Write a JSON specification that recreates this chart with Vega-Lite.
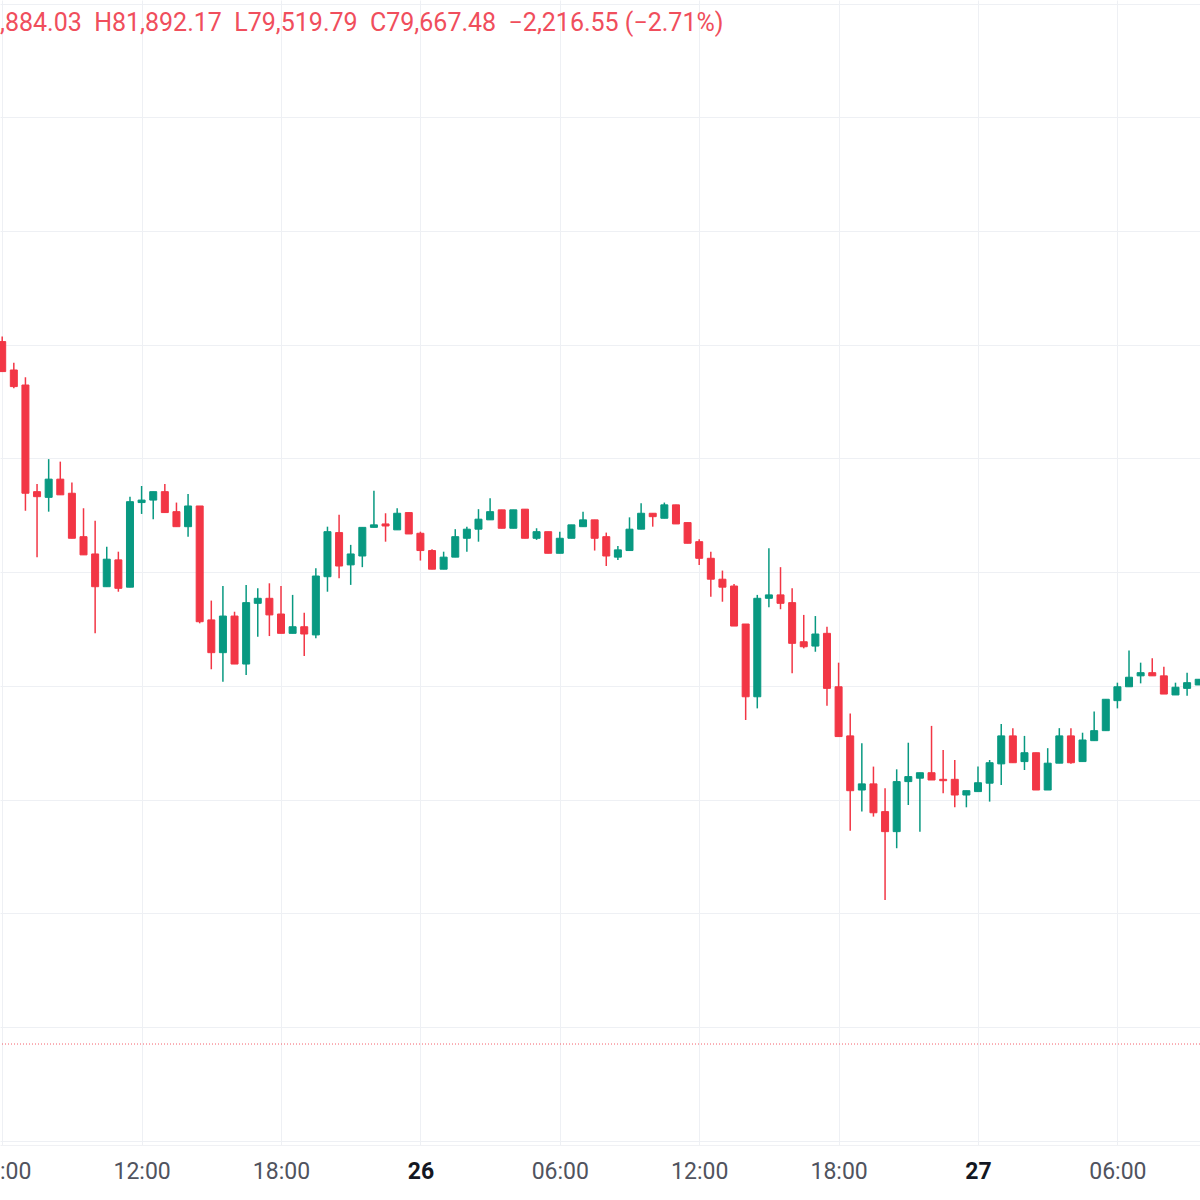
{
  "$schema": "https://vega.github.io/schema/vega-lite/v6.json",
  "width": 1200,
  "height": 1145,
  "autosize": {"type": "none"},
  "padding": {"left": 0, "right": 0, "top": 0, "bottom": 55},
  "background": "#ffffff",
  "config": {"view": {"stroke": null}},
  "title": {
    "text": ",884.03\u00a0\u00a0H81,892.17\u00a0\u00a0L79,519.79\u00a0\u00a0C79,667.48\u00a0\u00a0\u22122,216.55\u00a0(\u22122.71%)",
    "anchor": "start",
    "frame": "group",
    "orient": "top",
    "offset": -56,
    "baseline": "alphabetic",
    "font": "Roboto",
    "fontSize": 25,
    "fontWeight": "normal",
    "color": "#F04E5C"
  },
  "data": {
    "values": [
      {"t": "2025-02-25T06:00:00Z", "o": 83014, "h": 83036, "l": 82882, "c": 82882},
      {"t": "2025-02-25T06:30:00Z", "o": 82889, "h": 82921, "l": 82809, "c": 82816},
      {"t": "2025-02-25T07:00:00Z", "o": 82823, "h": 82857, "l": 82270, "c": 82347},
      {"t": "2025-02-25T07:30:00Z", "o": 82354, "h": 82388, "l": 82066, "c": 82332},
      {"t": "2025-02-25T08:00:00Z", "o": 82329, "h": 82497, "l": 82266, "c": 82409},
      {"t": "2025-02-25T08:30:00Z", "o": 82409, "h": 82486, "l": 82340, "c": 82340},
      {"t": "2025-02-25T09:00:00Z", "o": 82347, "h": 82394, "l": 82149, "c": 82149},
      {"t": "2025-02-25T09:30:00Z", "o": 82156, "h": 82281, "l": 82076, "c": 82076},
      {"t": "2025-02-25T10:00:00Z", "o": 82080, "h": 82226, "l": 81731, "c": 81936},
      {"t": "2025-02-25T10:30:00Z", "o": 81936, "h": 82112, "l": 81936, "c": 82057},
      {"t": "2025-02-25T11:00:00Z", "o": 82054, "h": 82090, "l": 81914, "c": 81929},
      {"t": "2025-02-25T11:30:00Z", "o": 81934, "h": 82332, "l": 81934, "c": 82310},
      {"t": "2025-02-25T12:00:00Z", "o": 82306, "h": 82379, "l": 82256, "c": 82317},
      {"t": "2025-02-25T12:30:00Z", "o": 82317, "h": 82354, "l": 82233, "c": 82354},
      {"t": "2025-02-25T13:00:00Z", "o": 82354, "h": 82388, "l": 82262, "c": 82262},
      {"t": "2025-02-25T13:30:00Z", "o": 82266, "h": 82306, "l": 82200, "c": 82200},
      {"t": "2025-02-25T14:00:00Z", "o": 82200, "h": 82344, "l": 82156, "c": 82291},
      {"t": "2025-02-25T14:30:00Z", "o": 82291, "h": 82291, "l": 81775, "c": 81782},
      {"t": "2025-02-25T15:00:00Z", "o": 81790, "h": 81875, "l": 81573, "c": 81646},
      {"t": "2025-02-25T15:30:00Z", "o": 81646, "h": 81939, "l": 81518, "c": 81807},
      {"t": "2025-02-25T16:00:00Z", "o": 81807, "h": 81826, "l": 81596, "c": 81596},
      {"t": "2025-02-25T16:30:00Z", "o": 81596, "h": 81944, "l": 81548, "c": 81866},
      {"t": "2025-02-25T17:00:00Z", "o": 81863, "h": 81929, "l": 81716, "c": 81885},
      {"t": "2025-02-25T17:30:00Z", "o": 81885, "h": 81951, "l": 81719, "c": 81812},
      {"t": "2025-02-25T18:00:00Z", "o": 81816, "h": 81939, "l": 81731, "c": 81731},
      {"t": "2025-02-25T18:30:00Z", "o": 81731, "h": 81900, "l": 81731, "c": 81760},
      {"t": "2025-02-25T19:00:00Z", "o": 81760, "h": 81822, "l": 81631, "c": 81728},
      {"t": "2025-02-25T19:30:00Z", "o": 81724, "h": 82017, "l": 81709, "c": 81983},
      {"t": "2025-02-25T20:00:00Z", "o": 81980, "h": 82200, "l": 81914, "c": 82178},
      {"t": "2025-02-25T20:30:00Z", "o": 82174, "h": 82252, "l": 81973, "c": 82027},
      {"t": "2025-02-25T21:00:00Z", "o": 82032, "h": 82120, "l": 81944, "c": 82080},
      {"t": "2025-02-25T21:30:00Z", "o": 82071, "h": 82197, "l": 82022, "c": 82197},
      {"t": "2025-02-25T22:00:00Z", "o": 82197, "h": 82358, "l": 82197, "c": 82208},
      {"t": "2025-02-25T22:30:00Z", "o": 82212, "h": 82259, "l": 82134, "c": 82203},
      {"t": "2025-02-25T23:00:00Z", "o": 82186, "h": 82281, "l": 82186, "c": 82259},
      {"t": "2025-02-25T23:30:00Z", "o": 82262, "h": 82262, "l": 82168, "c": 82168},
      {"t": "2025-02-26T00:00:00Z", "o": 82171, "h": 82178, "l": 82051, "c": 82095},
      {"t": "2025-02-26T00:30:00Z", "o": 82095, "h": 82101, "l": 82013, "c": 82013},
      {"t": "2025-02-26T01:00:00Z", "o": 82013, "h": 82090, "l": 82013, "c": 82066},
      {"t": "2025-02-26T01:30:00Z", "o": 82066, "h": 82189, "l": 82066, "c": 82156},
      {"t": "2025-02-26T02:00:00Z", "o": 82149, "h": 82200, "l": 82090, "c": 82189},
      {"t": "2025-02-26T02:30:00Z", "o": 82189, "h": 82277, "l": 82134, "c": 82233},
      {"t": "2025-02-26T03:00:00Z", "o": 82230, "h": 82325, "l": 82230, "c": 82266},
      {"t": "2025-02-26T03:30:00Z", "o": 82274, "h": 82274, "l": 82193, "c": 82193},
      {"t": "2025-02-26T04:00:00Z", "o": 82193, "h": 82274, "l": 82193, "c": 82274},
      {"t": "2025-02-26T04:30:00Z", "o": 82277, "h": 82277, "l": 82149, "c": 82149},
      {"t": "2025-02-26T05:00:00Z", "o": 82149, "h": 82193, "l": 82142, "c": 82178},
      {"t": "2025-02-26T05:30:00Z", "o": 82178, "h": 82178, "l": 82083, "c": 82083},
      {"t": "2025-02-26T06:00:00Z", "o": 82083, "h": 82178, "l": 82083, "c": 82149},
      {"t": "2025-02-26T06:30:00Z", "o": 82149, "h": 82208, "l": 82149, "c": 82208},
      {"t": "2025-02-26T07:00:00Z", "o": 82200, "h": 82266, "l": 82200, "c": 82230},
      {"t": "2025-02-26T07:30:00Z", "o": 82230, "h": 82230, "l": 82095, "c": 82149},
      {"t": "2025-02-26T08:00:00Z", "o": 82156, "h": 82174, "l": 82027, "c": 82071},
      {"t": "2025-02-26T08:30:00Z", "o": 82066, "h": 82115, "l": 82054, "c": 82098},
      {"t": "2025-02-26T09:00:00Z", "o": 82095, "h": 82241, "l": 82095, "c": 82189},
      {"t": "2025-02-26T09:30:00Z", "o": 82189, "h": 82303, "l": 82189, "c": 82259},
      {"t": "2025-02-26T10:00:00Z", "o": 82259, "h": 82259, "l": 82200, "c": 82244},
      {"t": "2025-02-26T10:30:00Z", "o": 82237, "h": 82306, "l": 82237, "c": 82296},
      {"t": "2025-02-26T11:00:00Z", "o": 82296, "h": 82296, "l": 82212, "c": 82212},
      {"t": "2025-02-26T11:30:00Z", "o": 82218, "h": 82218, "l": 82127, "c": 82127},
      {"t": "2025-02-26T12:00:00Z", "o": 82134, "h": 82145, "l": 82032, "c": 82061},
      {"t": "2025-02-26T12:30:00Z", "o": 82061, "h": 82090, "l": 81892, "c": 81969},
      {"t": "2025-02-26T13:00:00Z", "o": 81969, "h": 82007, "l": 81870, "c": 81934},
      {"t": "2025-02-26T13:30:00Z", "o": 81939, "h": 81948, "l": 81763, "c": 81763},
      {"t": "2025-02-26T14:00:00Z", "o": 81772, "h": 81772, "l": 81350, "c": 81452},
      {"t": "2025-02-26T14:30:00Z", "o": 81452, "h": 81900, "l": 81401, "c": 81885},
      {"t": "2025-02-26T15:00:00Z", "o": 81885, "h": 82105, "l": 81846, "c": 81900},
      {"t": "2025-02-26T15:30:00Z", "o": 81900, "h": 82022, "l": 81837, "c": 81863},
      {"t": "2025-02-26T16:00:00Z", "o": 81866, "h": 81929, "l": 81555, "c": 81687},
      {"t": "2025-02-26T16:30:00Z", "o": 81694, "h": 81812, "l": 81665, "c": 81672},
      {"t": "2025-02-26T17:00:00Z", "o": 81675, "h": 81807, "l": 81650, "c": 81728},
      {"t": "2025-02-26T17:30:00Z", "o": 81731, "h": 81760, "l": 81412, "c": 81489},
      {"t": "2025-02-26T18:00:00Z", "o": 81496, "h": 81602, "l": 81277, "c": 81277},
      {"t": "2025-02-26T18:30:00Z", "o": 81280, "h": 81379, "l": 80863, "c": 81039},
      {"t": "2025-02-26T19:00:00Z", "o": 81042, "h": 81248, "l": 80947, "c": 81069},
      {"t": "2025-02-26T19:30:00Z", "o": 81069, "h": 81145, "l": 80925, "c": 80942},
      {"t": "2025-02-26T20:00:00Z", "o": 80947, "h": 81050, "l": 80558, "c": 80859},
      {"t": "2025-02-26T20:30:00Z", "o": 80859, "h": 81133, "l": 80786, "c": 81079},
      {"t": "2025-02-26T21:00:00Z", "o": 81079, "h": 81250, "l": 80976, "c": 81101},
      {"t": "2025-02-26T21:30:00Z", "o": 81094, "h": 81118, "l": 80859, "c": 81118},
      {"t": "2025-02-26T22:00:00Z", "o": 81118, "h": 81324, "l": 81086, "c": 81086},
      {"t": "2025-02-26T22:30:00Z", "o": 81089, "h": 81218, "l": 81028, "c": 81083},
      {"t": "2025-02-26T23:00:00Z", "o": 81089, "h": 81174, "l": 80966, "c": 81020},
      {"t": "2025-02-26T23:30:00Z", "o": 81020, "h": 81039, "l": 80966, "c": 81039},
      {"t": "2025-02-27T00:00:00Z", "o": 81035, "h": 81145, "l": 81035, "c": 81074},
      {"t": "2025-02-27T00:30:00Z", "o": 81072, "h": 81174, "l": 80991, "c": 81162},
      {"t": "2025-02-27T01:00:00Z", "o": 81157, "h": 81332, "l": 81064, "c": 81280},
      {"t": "2025-02-27T01:30:00Z", "o": 81280, "h": 81314, "l": 81162, "c": 81162},
      {"t": "2025-02-27T02:00:00Z", "o": 81167, "h": 81280, "l": 81130, "c": 81206},
      {"t": "2025-02-27T02:30:00Z", "o": 81206, "h": 81206, "l": 81042, "c": 81042},
      {"t": "2025-02-27T03:00:00Z", "o": 81042, "h": 81226, "l": 81042, "c": 81160},
      {"t": "2025-02-27T03:30:00Z", "o": 81160, "h": 81314, "l": 81160, "c": 81280},
      {"t": "2025-02-27T04:00:00Z", "o": 81280, "h": 81314, "l": 81157, "c": 81162},
      {"t": "2025-02-27T04:30:00Z", "o": 81167, "h": 81294, "l": 81167, "c": 81262},
      {"t": "2025-02-27T05:00:00Z", "o": 81259, "h": 81387, "l": 81259, "c": 81303},
      {"t": "2025-02-27T05:30:00Z", "o": 81303, "h": 81441, "l": 81303, "c": 81441},
      {"t": "2025-02-27T06:00:00Z", "o": 81435, "h": 81514, "l": 81401, "c": 81496},
      {"t": "2025-02-27T06:30:00Z", "o": 81496, "h": 81655, "l": 81496, "c": 81538},
      {"t": "2025-02-27T07:00:00Z", "o": 81544, "h": 81602, "l": 81511, "c": 81558},
      {"t": "2025-02-27T07:30:00Z", "o": 81558, "h": 81621, "l": 81544, "c": 81544},
      {"t": "2025-02-27T08:00:00Z", "o": 81544, "h": 81584, "l": 81464, "c": 81464},
      {"t": "2025-02-27T08:30:00Z", "o": 81460, "h": 81514, "l": 81460, "c": 81494},
      {"t": "2025-02-27T09:00:00Z", "o": 81489, "h": 81558, "l": 81456, "c": 81514},
      {"t": "2025-02-27T09:30:00Z", "o": 81504, "h": 81529, "l": 81504, "c": 81529}
    ]
  },
  "layer": [
    {
      "mark": {"type": "rule", "strokeWidth": 1.5, "clip": true},
      "encoding": {
        "x": {
          "field": "t", "type": "temporal",
          "scale": {"type": "utc", "padding": 0, "nice": false, "domain": [{"year": 2025, "month": 2, "date": 25, "hours": 5, "minutes": 54, "seconds": 19, "utc": true}, {"year": 2025, "month": 2, "date": 27, "hours": 9, "minutes": 33, "seconds": 19, "utc": true}]},
          "axis": {
            "title": null,
            "values": [
              {"year": 2025, "month": 2, "date": 25, "hours": 6, "utc": true},
              {"year": 2025, "month": 2, "date": 25, "hours": 12, "utc": true},
              {"year": 2025, "month": 2, "date": 25, "hours": 18, "utc": true},
              {"year": 2025, "month": 2, "date": 26, "hours": 0, "utc": true},
              {"year": 2025, "month": 2, "date": 26, "hours": 6, "utc": true},
              {"year": 2025, "month": 2, "date": 26, "hours": 12, "utc": true},
              {"year": 2025, "month": 2, "date": 26, "hours": 18, "utc": true},
              {"year": 2025, "month": 2, "date": 27, "hours": 0, "utc": true},
              {"year": 2025, "month": 2, "date": 27, "hours": 6, "utc": true}
            ],
            "labelExpr": "utchours(datum.value) === 0 ? utcFormat(datum.value, '%-d') : utcFormat(datum.value, '%H:%M')",
            "labelFont": "Roboto",
            "labelFontSize": 23,
            "labelColor": {"condition": {"test": "utchours(datum.value) === 0", "value": "#131722"}, "value": "#50535E"},
            "labelFontWeight": {"condition": {"test": "utchours(datum.value) === 0", "value": "bold"}, "value": "normal"},
            "labelPadding": 15,
            "labelOverlap": false,
            "labelBound": false,
            "labelFlush": false,
            "ticks": false,
            "tickSize": 0,
            "domain": true,
            "domainColor": "#F0F1F4",
            "grid": true,
            "gridColor": "#EEF0F4",
            "gridWidth": 1
          }
        },
        "y": {
          "field": "l", "type": "quantitative",
          "scale": {"domain": [79481, 84516], "nice": false, "zero": false},
          "axis": {"title": null, "labels": false, "ticks": false, "domain": false, "grid": true, "gridColor": "#EEF0F4", "values": [79500, 80000, 80500, 81000, 81500, 82000, 82500, 83000, 83500, 84000, 84500]}
        },
        "y2": {"field": "h"},
        "color": {"condition": {"test": "datum.c >= datum.o", "value": "#089981"}, "value": "#F23645"}
      }
    },
    {
      "mark": {"type": "bar", "size": 7, "strokeWidth": 1, "clip": true},
      "encoding": {
        "x": {"field": "t", "type": "temporal"},
        "y": {"field": "o", "type": "quantitative", "axis": {"title": null, "labels": false, "ticks": false, "domain": false, "grid": true, "gridColor": "#EEF0F4", "values": [79500, 80000, 80500, 81000, 81500, 82000, 82500, 83000, 83500, 84000, 84500]}},
        "y2": {"field": "c"},
        "color": {"condition": {"test": "datum.c >= datum.o", "value": "#089981"}, "value": "#F23645"},
        "stroke": {"condition": {"test": "datum.c >= datum.o", "value": "#089981"}, "value": "#F23645"}
      }
    },
    {
      "data": {"values": [{"ref": 79925}]},
      "mark": {"type": "rule", "strokeDash": [1, 2], "strokeWidth": 1, "color": "#F23645", "opacity": 0.8},
      "encoding": {
        "y": {"field": "ref", "type": "quantitative", "axis": {"title": null, "labels": false, "ticks": false, "domain": false, "grid": true, "gridColor": "#EEF0F4", "values": [79500, 80000, 80500, 81000, 81500, 82000, 82500, 83000, 83500, 84000, 84500]}}
      }
    }
  ]
}
